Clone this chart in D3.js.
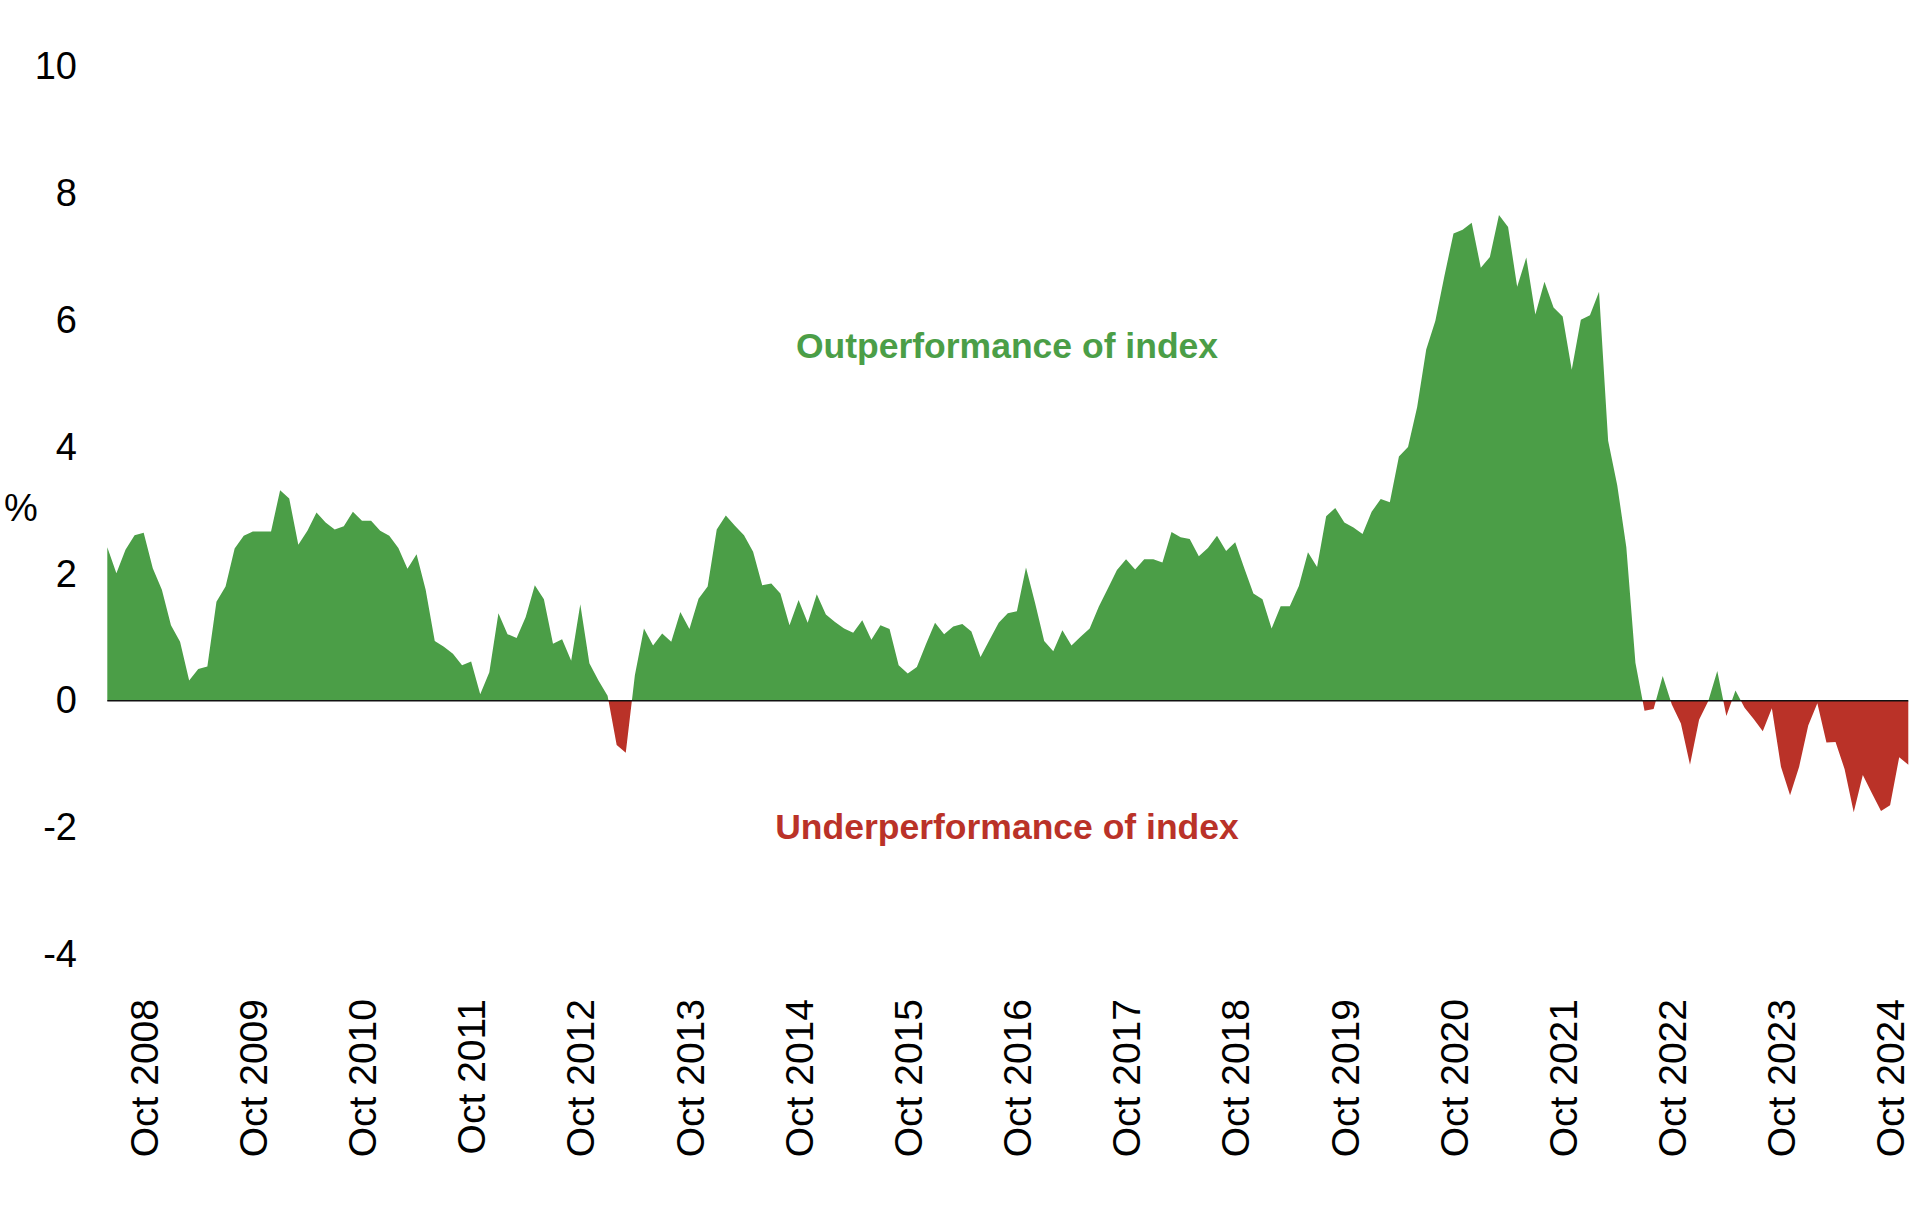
<!DOCTYPE html>
<html>
<head>
<meta charset="utf-8">
<script src="https://cdn.jsdelivr.net/npm/d3@7"></script>
<style>
  body { margin: 0; background: #fff; }
  text { font-family: "Liberation Sans", Arial, Helvetica, sans-serif; }
</style>
</head>
<body>
<svg id="chart" width="1920" height="1216"></svg>
<script>
// -------------------------------------------------------------------------- //
//                     RELATIVE PERFORMANCE VS INDEX (%)                      //
// -------------------------------------------------------------------------- //

// monthly readings, Jun 2008 .. Dec 2024
var firstMonth = new Date(2008, 5, 1);

var values = [
  2.42, 2.01, 2.38, 2.61, 2.65, 2.09, 1.75, 1.19, 0.93, 0.32,
  0.50, 0.54, 1.56, 1.80, 2.40, 2.60, 2.67, 2.67, 2.67, 3.32,
  3.19, 2.46, 2.68, 2.97, 2.81, 2.70, 2.75, 2.98, 2.84, 2.84,
  2.68, 2.60, 2.41, 2.08, 2.31, 1.75, 0.94, 0.85, 0.74, 0.56,
  0.62, 0.10, 0.45, 1.38, 1.05, 0.99, 1.32, 1.82, 1.60, 0.90,
  0.97, 0.63, 1.52, 0.59, 0.32, 0.08, -0.70, -0.82, 0.40, 1.14,
  0.87, 1.06, 0.93, 1.40, 1.13, 1.61, 1.80, 2.70, 2.92, 2.76,
  2.61, 2.35, 1.82, 1.85, 1.69, 1.19, 1.59, 1.23, 1.68, 1.36,
  1.24, 1.14, 1.07, 1.27, 0.96, 1.19, 1.13, 0.56, 0.43, 0.53,
  0.89, 1.23, 1.05, 1.17, 1.21, 1.09, 0.69, 0.96, 1.23, 1.38,
  1.41, 2.10, 1.54, 0.94, 0.78, 1.11, 0.87, 1.01, 1.14, 1.48,
  1.77, 2.06, 2.23, 2.07, 2.23, 2.23, 2.18, 2.66, 2.58, 2.55,
  2.28, 2.41, 2.60, 2.36, 2.50, 2.09, 1.69, 1.60, 1.14, 1.49,
  1.49, 1.81, 2.34, 2.11, 2.91, 3.04, 2.81, 2.73, 2.63, 2.98,
  3.18, 3.13, 3.85, 4.00, 4.63, 5.54, 5.99, 6.70, 7.37, 7.43,
  7.54, 6.83, 7.00, 7.66, 7.47, 6.53, 6.99, 6.09, 6.61, 6.20,
  6.06, 5.22, 6.01, 6.08, 6.45, 4.10, 3.40, 2.42, 0.60, -0.16,
  -0.13, 0.39, -0.06, -0.36, -1.01, -0.30, -0.01, 0.47, -0.24, 0.16,
  -0.11, -0.29, -0.48, -0.12, -1.04, -1.49, -1.04, -0.39, -0.04, -0.66,
  -0.65, -1.08, -1.76, -1.17, -1.46, -1.74, -1.65, -0.89, -1.01
];

var tickLabels = [
  "Oct 2008", "Oct 2009", "Oct 2010", "Oct 2011", "Oct 2012", "Oct 2013",
  "Oct 2014", "Oct 2015", "Oct 2016", "Oct 2017", "Oct 2018", "Oct 2019",
  "Oct 2020", "Oct 2021", "Oct 2022", "Oct 2023", "Oct 2024"
];

var yTicks = [-4, -2, 0, 2, 4, 6, 8, 10];

var outLabel   = "Outperformance of index";
var underLabel = "Underperformance of index";

var green = "#4b9e47";
var red   = "#ba3228";

// month categories
var fmt = d3.timeFormat("%b %Y");
var months = values.map(function (v, i) { return fmt(d3.timeMonth.offset(firstMonth, i)); });

var svg = d3.select("#chart");

// set the ranges
var x = d3.scalePoint().domain(months).range([107.3, 1908.3]);
var y = d3.scaleLinear().domain([-4, 10]).range([954.3, 66.7]);

var zeroY = y(0);

// clip above / below zero
var defs = svg.append("defs");
defs.append("clipPath").attr("id", "clipAbove")
  .append("rect")
    .attr("x", 0).attr("y", 0)
    .attr("width", 1920).attr("height", zeroY);

defs.append("clipPath").attr("id", "clipBelow")
  .append("rect")
    .attr("x", 0).attr("y", zeroY)
    .attr("width", 1920).attr("height", 1216 - zeroY);

// define the area
var area = d3.area()
  .x(function (d, i) { return x(months[i]); })
  .y0(zeroY)
  .y1(function (d) { return y(d); });

svg.append("path")
  .datum(values)
  .attr("fill", green)
  .attr("clip-path", "url(#clipAbove)")
  .attr("d", area);

svg.append("path")
  .datum(values)
  .attr("fill", red)
  .attr("clip-path", "url(#clipBelow)")
  .attr("d", area);

// zero line
svg.append("line")
  .attr("x1", x(months[0]))
  .attr("x2", x(months[months.length - 1]))
  .attr("y1", zeroY)
  .attr("y2", zeroY)
  .attr("stroke", "#111")
  .attr("stroke-width", 1.6);

// Y axis (labels only, plain hyphen for negatives)
var yAxis = svg.append("g")
  .attr("transform", "translate(107,0)")
  .call(d3.axisLeft(y)
    .tickValues(yTicks)
    .tickSize(0)
    .tickPadding(30)
    .tickFormat(function (d) { return String(d); }));

yAxis.select(".domain").remove();
yAxis.selectAll("text")
  .attr("fill", "#000")
  .style("font-size", "38px")
  .style("font-family", "'Liberation Sans', Arial, sans-serif");

svg.append("text")
  .text("%")
  .attr("x", 21)
  .attr("y", 508)
  .attr("dy", "0.35em")
  .attr("text-anchor", "middle")
  .style("font-size", "38px");

// X axis (rotated labels)
var xAxis = svg.append("g")
  .attr("transform", "translate(0,999)")
  .call(d3.axisBottom(x)
    .tickValues(tickLabels)
    .tickSize(0)
    .tickPadding(0));

xAxis.select(".domain").remove();
xAxis.selectAll("text")
  .attr("y", 0)
  .attr("x", 0)
  .attr("dy", "0.35em")
  .attr("transform", "rotate(-90)")
  .attr("text-anchor", "end")
  .attr("fill", "#000")
  .style("font-size", "39px")
  .style("font-family", "'Liberation Sans', Arial, sans-serif");

// annotations
svg.append("text")
  .text(outLabel)
  .attr("x", 1007)
  .attr("y", 357.5)
  .attr("text-anchor", "middle")
  .attr("fill", green)
  .style("font-weight", "bold")
  .style("font-size", "35.5px");

svg.append("text")
  .text(underLabel)
  .attr("x", 1007)
  .attr("y", 839)
  .attr("text-anchor", "middle")
  .attr("fill", red)
  .style("font-weight", "bold")
  .style("font-size", "35.5px");
</script>
</body>
</html>
